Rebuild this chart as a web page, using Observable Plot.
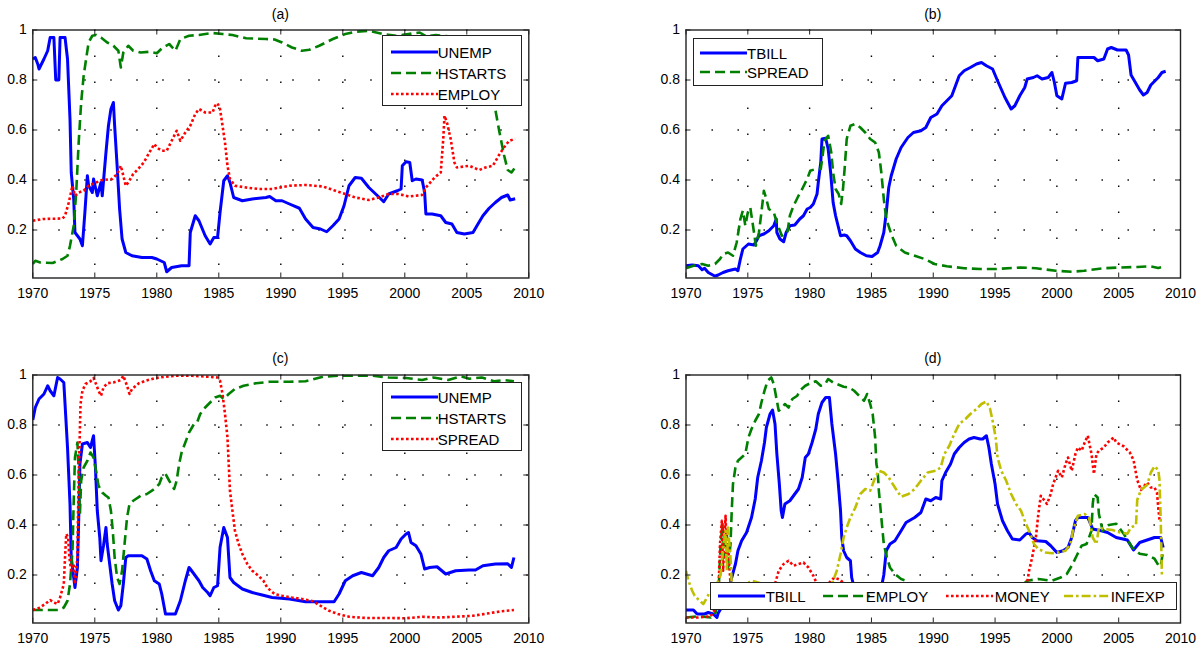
<!DOCTYPE html>
<html><head><meta charset="utf-8">
<script src="https://cdn.jsdelivr.net/npm/d3@7"></script>
<script src="https://cdn.jsdelivr.net/npm/@observablehq/plot@0.6"></script>
<style>
body{margin:0;background:#fff;}
#root{position:relative;width:1202px;height:651px;overflow:hidden;background:#fff;font-family:"Liberation Sans",Arial,sans-serif;color:#000;}
.panel{position:absolute;}
.title{position:absolute;font-size:14px;transform:translate(-50%,-50%);white-space:nowrap;}
.legend{position:absolute;background:#fff;border:1.5px solid #222;box-sizing:border-box;}
.legend .item{position:absolute;font-size:15px;white-space:nowrap;line-height:1;transform:translateY(-50%);}
.legend svg{position:absolute;transform:translateY(-50%);overflow:visible;}
</style></head>
<body><div id="root"></div>
<script>
// ---------- tick values ----------
const xTicks = [1970, 1975, 1980, 1985, 1990, 1995, 2000, 2005, 2010];
const yTicks = [0.2, 0.4, 0.6, 0.8, 1];

// ---------- panel (a) ----------
const a_unemp = [[1970.0,0.884],[1970.2,0.89],[1970.4,0.864],[1970.5,0.844],[1970.9,0.884],[1971.2,0.917],[1971.4,0.97],[1971.7,0.97],[1971.85,0.80],[1972.1,0.80],[1972.2,0.97],[1972.6,0.97],[1972.8,0.884],[1973.0,0.644],[1973.1,0.43],[1973.3,0.324],[1973.4,0.19],[1973.8,0.164],[1974.0,0.137],[1974.2,0.27],[1974.4,0.417],[1974.5,0.377],[1974.8,0.35],[1974.9,0.404],[1975.2,0.337],[1975.5,0.39],[1975.6,0.337],[1975.9,0.51],[1976.1,0.617],[1976.3,0.684],[1976.5,0.71],[1976.6,0.617],[1976.8,0.457],[1977.0,0.284],[1977.2,0.164],[1977.5,0.11],[1978.0,0.097],[1978.8,0.09],[1979.6,0.09],[1980.0,0.084],[1980.6,0.07],[1980.8,0.033],[1981.2,0.05],[1982.0,0.057],[1982.6,0.057],[1982.7,0.19],[1983.1,0.257],[1983.4,0.237],[1983.9,0.177],[1984.3,0.144],[1984.6,0.17],[1984.9,0.17],[1985.1,0.27],[1985.4,0.397],[1985.7,0.417],[1985.9,0.39],[1986.2,0.33],[1986.9,0.317],[1987.7,0.324],[1988.8,0.33],[1989.1,0.334],[1989.6,0.317],[1990.1,0.317],[1990.7,0.304],[1991.5,0.287],[1992.0,0.244],[1992.6,0.21],[1993.2,0.204],[1993.7,0.193],[1994.2,0.217],[1994.7,0.244],[1995.1,0.297],[1995.5,0.377],[1996.0,0.41],[1996.5,0.407],[1997.1,0.37],[1997.8,0.337],[1998.3,0.313],[1998.7,0.344],[1999.4,0.357],[1999.7,0.364],[1999.8,0.457],[2000.1,0.473],[2000.4,0.47],[2000.6,0.397],[2000.9,0.404],[2001.4,0.4],[2001.6,0.35],[2001.7,0.264],[2002.2,0.264],[2002.9,0.257],[2003.3,0.23],[2003.8,0.224],[2004.2,0.19],[2004.8,0.184],[2005.5,0.19],[2005.9,0.224],[2006.3,0.257],[2006.8,0.287],[2007.3,0.31],[2007.8,0.33],[2008.3,0.34],[2008.5,0.32],[2008.9,0.325]];
const a_hstarts = [[1970.0,0.064],[1970.2,0.077],[1970.6,0.07],[1971.6,0.068],[1972.4,0.084],[1972.8,0.097],[1973.0,0.137],[1973.3,0.217],[1973.5,0.35],[1973.7,0.55],[1973.9,0.71],[1974.1,0.817],[1974.3,0.884],[1974.5,0.95],[1974.8,0.977],[1975.1,0.98],[1975.5,0.97],[1976.0,0.95],[1976.5,0.937],[1976.9,0.917],[1977.1,0.85],[1977.3,0.91],[1977.7,0.937],[1978.1,0.917],[1978.7,0.91],[1979.4,0.913],[1980.0,0.907],[1980.4,0.926],[1981.0,0.944],[1981.5,0.917],[1981.9,0.964],[1982.6,0.977],[1983.4,0.98],[1984.5,0.988],[1985.3,0.984],[1986.1,0.98],[1987.2,0.967],[1988.8,0.964],[1989.5,0.962],[1990.1,0.95],[1990.9,0.93],[1991.7,0.917],[1992.3,0.921],[1993.1,0.937],[1994.2,0.964],[1995.2,0.984],[1996.0,0.993],[1997.1,0.997],[1998.2,0.984],[1999.3,0.977],[2000.3,0.984],[2001.2,0.99],[2001.7,0.975],[2002.5,0.98],[2003.5,0.975],[2004.5,0.97],[2005.5,0.96],[2006.3,0.93],[2006.8,0.82],[2007.2,0.71],[2007.6,0.6],[2008.0,0.5],[2008.3,0.44],[2008.6,0.43],[2008.9,0.45]];
const a_employ = [[1970.0,0.237],[1970.8,0.244],[1972.4,0.246],[1972.6,0.257],[1972.9,0.31],[1973.2,0.377],[1973.4,0.337],[1973.7,0.35],[1974.1,0.357],[1974.5,0.377],[1975.1,0.39],[1975.6,0.4],[1976.4,0.404],[1976.8,0.424],[1977.1,0.457],[1977.3,0.417],[1977.5,0.377],[1977.7,0.39],[1978.1,0.424],[1978.5,0.444],[1978.95,0.47],[1979.4,0.51],[1979.8,0.544],[1980.0,0.53],[1980.4,0.517],[1980.8,0.517],[1981.2,0.557],[1981.6,0.597],[1981.9,0.557],[1982.3,0.59],[1982.7,0.617],[1983.1,0.664],[1983.4,0.684],[1983.9,0.67],[1984.5,0.67],[1984.7,0.697],[1984.9,0.707],[1985.1,0.684],[1985.3,0.617],[1985.5,0.55],[1985.7,0.457],[1985.9,0.404],[1986.3,0.377],[1987.2,0.37],[1988.2,0.364],[1989.3,0.364],[1990.7,0.377],[1992.0,0.38],[1993.4,0.374],[1994.4,0.357],[1995.2,0.344],[1996.0,0.33],[1997.1,0.32],[1997.9,0.33],[1998.7,0.344],[1999.5,0.344],[2000.3,0.334],[2001.4,0.34],[2001.7,0.37],[2002.4,0.41],[2002.9,0.43],[2003.1,0.564],[2003.2,0.657],[2003.4,0.63],[2003.7,0.564],[2004.0,0.47],[2004.2,0.45],[2005.2,0.457],[2006.0,0.44],[2006.5,0.45],[2007.1,0.457],[2007.6,0.5],[2008.0,0.53],[2008.4,0.556],[2008.9,0.565]];

// ---------- panel (b) ----------
const b_tbill = [[1970.0,0.057],[1970.5,0.06],[1971.0,0.057],[1971.3,0.041],[1971.5,0.047],[1971.8,0.03],[1972.35,0.015],[1972.6,0.02],[1973.0,0.03],[1973.4,0.037],[1974.0,0.044],[1974.2,0.037],[1974.4,0.084],[1974.6,0.124],[1975.05,0.144],[1975.5,0.14],[1975.7,0.157],[1975.9,0.177],[1976.3,0.184],[1976.7,0.197],[1977.1,0.217],[1977.3,0.244],[1977.35,0.19],[1977.6,0.164],[1977.9,0.153],[1978.1,0.19],[1978.4,0.217],[1978.8,0.22],[1979.2,0.244],[1979.5,0.257],[1979.8,0.284],[1980.05,0.29],[1980.3,0.304],[1980.6,0.344],[1980.7,0.39],[1980.9,0.47],[1981.0,0.564],[1981.3,0.567],[1981.5,0.524],[1981.7,0.43],[1981.9,0.31],[1982.1,0.257],[1982.3,0.217],[1982.5,0.177],[1982.8,0.18],[1983.0,0.177],[1983.3,0.157],[1983.7,0.124],[1984.1,0.11],[1984.6,0.097],[1985.05,0.094],[1985.5,0.11],[1985.7,0.137],[1986.0,0.19],[1986.2,0.27],[1986.4,0.37],[1986.6,0.417],[1987.0,0.484],[1987.4,0.53],[1987.95,0.57],[1988.4,0.59],[1989.0,0.597],[1989.4,0.61],[1989.8,0.65],[1990.3,0.664],[1990.7,0.697],[1991.1,0.717],[1991.5,0.737],[1991.8,0.777],[1992.1,0.817],[1992.5,0.837],[1993.0,0.85],[1993.5,0.864],[1993.9,0.87],[1994.3,0.857],[1994.8,0.844],[1995.2,0.797],[1995.8,0.73],[1996.3,0.684],[1996.6,0.697],[1997.0,0.737],[1997.4,0.77],[1997.6,0.804],[1998.1,0.81],[1998.4,0.817],[1998.8,0.804],[1999.3,0.81],[1999.6,0.83],[1999.8,0.79],[2000.0,0.737],[2000.4,0.724],[2000.7,0.787],[2001.2,0.79],[2001.6,0.797],[2001.7,0.89],[2002.2,0.89],[2003.0,0.89],[2003.3,0.877],[2003.8,0.884],[2004.1,0.924],[2004.4,0.93],[2004.9,0.92],[2005.6,0.92],[2005.8,0.9],[2006.0,0.82],[2006.7,0.76],[2007.0,0.74],[2007.3,0.75],[2007.6,0.78],[2008.2,0.81],[2008.5,0.83],[2008.8,0.835]];
const b_spread = [[1970.0,0.047],[1970.6,0.057],[1971.3,0.064],[1971.8,0.057],[1972.35,0.064],[1972.75,0.084],[1973.0,0.104],[1973.4,0.11],[1973.8,0.097],[1974.1,0.15],[1974.4,0.244],[1974.6,0.277],[1974.8,0.217],[1975.0,0.27],[1975.2,0.29],[1975.5,0.19],[1975.65,0.137],[1975.9,0.19],[1976.1,0.27],[1976.3,0.357],[1976.5,0.324],[1976.7,0.284],[1977.1,0.27],[1977.35,0.23],[1977.75,0.177],[1978.2,0.19],[1978.4,0.257],[1978.7,0.297],[1979.1,0.337],[1979.4,0.364],[1979.8,0.404],[1980.05,0.437],[1980.5,0.444],[1980.9,0.444],[1981.05,0.497],[1981.2,0.557],[1981.5,0.577],[1981.75,0.51],[1981.9,0.43],[1982.1,0.364],[1982.35,0.344],[1982.55,0.304],[1982.7,0.364],[1982.85,0.457],[1983.0,0.564],[1983.3,0.617],[1983.7,0.624],[1984.1,0.61],[1984.5,0.59],[1984.9,0.564],[1985.3,0.55],[1985.6,0.51],[1985.8,0.43],[1986.0,0.324],[1986.2,0.244],[1986.65,0.177],[1987.0,0.137],[1987.7,0.11],[1988.5,0.097],[1989.3,0.084],[1990.1,0.064],[1991.1,0.055],[1992.5,0.047],[1993.8,0.044],[1995.1,0.044],[1997.0,0.05],[1998.3,0.047],[1999.9,0.037],[2001.2,0.033],[2002.2,0.037],[2003.8,0.047],[2005.0,0.05],[2006.5,0.052],[2007.5,0.055],[2008.2,0.048],[2008.8,0.055]];

// ---------- panel (c) ----------
const c_unemp = [[1970.0,0.82],[1970.2,0.87],[1970.5,0.904],[1970.9,0.924],[1971.2,0.957],[1971.4,0.937],[1971.7,0.917],[1972.0,0.99],[1972.2,0.984],[1972.5,0.97],[1972.6,0.884],[1972.8,0.71],[1973.0,0.484],[1973.1,0.27],[1973.3,0.19],[1973.4,0.15],[1973.6,0.23],[1973.7,0.417],[1973.8,0.644],[1974.0,0.724],[1974.4,0.73],[1974.65,0.71],[1974.9,0.757],[1975.05,0.63],[1975.2,0.457],[1975.4,0.35],[1975.5,0.257],[1975.7,0.317],[1975.9,0.39],[1976.0,0.324],[1976.2,0.244],[1976.4,0.164],[1976.6,0.097],[1976.9,0.06],[1977.1,0.077],[1977.3,0.164],[1977.5,0.27],[1977.7,0.277],[1978.8,0.277],[1979.2,0.264],[1979.5,0.217],[1979.8,0.177],[1980.2,0.164],[1980.4,0.124],[1980.7,0.044],[1981.5,0.044],[1981.9,0.097],[1982.3,0.177],[1982.6,0.23],[1982.7,0.224],[1983.0,0.204],[1983.4,0.177],[1983.7,0.15],[1984.1,0.13],[1984.3,0.117],[1984.6,0.15],[1984.9,0.157],[1985.1,0.31],[1985.4,0.39],[1985.7,0.35],[1985.9,0.19],[1986.2,0.17],[1986.9,0.144],[1987.7,0.13],[1988.5,0.12],[1989.3,0.11],[1990.7,0.104],[1992.0,0.093],[1994.3,0.093],[1994.7,0.124],[1995.2,0.177],[1995.8,0.197],[1996.5,0.21],[1997.4,0.197],[1997.9,0.23],[1998.3,0.27],[1998.7,0.297],[1999.3,0.31],[1999.7,0.344],[2000.1,0.364],[2000.3,0.37],[2000.5,0.33],[2000.9,0.317],[2001.3,0.284],[2001.6,0.224],[2002.0,0.23],[2002.6,0.233],[2003.3,0.204],[2004.1,0.217],[2005.2,0.22],[2005.7,0.22],[2006.3,0.237],[2007.3,0.244],[2008.3,0.245],[2008.6,0.23],[2008.8,0.27]];
const c_hstarts = [[1970.0,0.06],[1971.0,0.06],[1972.1,0.06],[1972.5,0.07],[1972.8,0.097],[1973.0,0.164],[1973.2,0.297],[1973.3,0.497],[1973.4,0.67],[1973.6,0.73],[1973.7,0.617],[1973.8,0.444],[1973.9,0.577],[1974.1,0.63],[1974.4,0.657],[1974.65,0.69],[1974.9,0.67],[1975.1,0.617],[1975.3,0.557],[1975.6,0.53],[1975.9,0.517],[1976.1,0.51],[1976.3,0.457],[1976.45,0.377],[1976.6,0.27],[1976.8,0.19],[1977.0,0.164],[1977.2,0.217],[1977.4,0.324],[1977.6,0.43],[1977.8,0.484],[1978.1,0.497],[1978.7,0.517],[1979.2,0.524],[1979.8,0.544],[1980.2,0.564],[1980.4,0.59],[1980.7,0.604],[1981.0,0.577],[1981.4,0.544],[1981.6,0.577],[1981.8,0.644],[1982.0,0.69],[1982.3,0.73],[1982.6,0.77],[1983.0,0.804],[1983.25,0.81],[1983.5,0.844],[1983.9,0.87],[1984.3,0.89],[1984.7,0.91],[1985.1,0.917],[1985.4,0.904],[1985.8,0.924],[1986.3,0.944],[1987.0,0.957],[1988.0,0.967],[1989.1,0.973],[1990.7,0.973],[1992.0,0.975],[1993.4,0.993],[1994.7,0.997],[1996.0,0.997],[1997.4,0.997],[1998.7,0.99],[2000.1,0.988],[2001.4,0.98],[2002.3,0.99],[2003.5,0.98],[2004.5,0.995],[2005.2,0.985],[2006.2,0.99],[2007.2,0.975],[2008.0,0.98],[2008.8,0.975]];
const c_spread = [[1970.0,0.06],[1970.5,0.068],[1971.0,0.084],[1971.4,0.1],[1971.7,0.09],[1972.0,0.084],[1972.2,0.11],[1972.5,0.164],[1972.6,0.27],[1972.7,0.364],[1972.85,0.35],[1972.95,0.27],[1973.1,0.217],[1973.3,0.244],[1973.4,0.164],[1973.6,0.27],[1973.65,0.457],[1973.75,0.684],[1973.85,0.884],[1974.0,0.937],[1974.25,0.964],[1974.65,0.975],[1974.9,0.988],[1975.1,0.964],[1975.3,0.937],[1975.5,0.917],[1975.7,0.95],[1976.0,0.967],[1976.5,0.97],[1977.1,0.98],[1977.3,0.997],[1977.6,0.957],[1977.8,0.924],[1978.0,0.944],[1978.55,0.967],[1979.1,0.977],[1979.9,0.988],[1980.7,0.993],[1981.5,0.997],[1982.85,0.997],[1984.2,0.993],[1984.9,0.99],[1985.1,0.977],[1985.3,0.924],[1985.5,0.844],[1985.7,0.75],[1985.8,0.644],[1985.9,0.537],[1986.1,0.457],[1986.3,0.377],[1986.6,0.324],[1986.9,0.284],[1987.3,0.244],[1987.7,0.217],[1988.2,0.197],[1988.6,0.177],[1988.9,0.15],[1989.5,0.124],[1990.1,0.117],[1990.9,0.11],[1991.7,0.104],[1992.6,0.095],[1993.2,0.077],[1993.9,0.057],[1994.6,0.044],[1995.5,0.033],[1996.9,0.028],[1998.7,0.028],[2000.1,0.027],[2001.4,0.033],[2002.8,0.03],[2004.1,0.033],[2005.5,0.037],[2006.8,0.047],[2007.8,0.055],[2008.8,0.06]];

// ---------- panel (d) ----------
const d_tbill = [[1970.0,0.06],[1970.6,0.06],[1970.9,0.044],[1971.5,0.044],[1971.8,0.05],[1972.2,0.044],[1972.5,0.03],[1972.6,0.047],[1973.0,0.08],[1973.4,0.13],[1973.7,0.19],[1974.0,0.244],[1974.2,0.297],[1974.5,0.337],[1974.9,0.37],[1975.3,0.43],[1975.6,0.504],[1975.8,0.59],[1976.1,0.657],[1976.35,0.73],[1976.5,0.79],[1976.8,0.844],[1977.0,0.86],[1977.2,0.804],[1977.35,0.684],[1977.55,0.564],[1977.7,0.457],[1977.8,0.43],[1978.0,0.484],[1978.4,0.497],[1978.8,0.524],[1979.1,0.544],[1979.4,0.59],[1979.65,0.67],[1979.9,0.684],[1980.2,0.73],[1980.5,0.784],[1980.7,0.844],[1981.0,0.89],[1981.3,0.91],[1981.6,0.91],[1981.8,0.804],[1982.1,0.684],[1982.3,0.577],[1982.5,0.457],[1982.6,0.35],[1982.75,0.297],[1983.0,0.27],[1983.3,0.257],[1983.4,0.19],[1983.6,0.15],[1984.0,0.12],[1984.5,0.1],[1985.0,0.09],[1985.5,0.11],[1985.8,0.15],[1986.0,0.2],[1986.2,0.297],[1986.5,0.324],[1986.9,0.337],[1987.4,0.377],[1987.8,0.41],[1988.5,0.43],[1989.0,0.45],[1989.4,0.504],[1989.8,0.497],[1990.2,0.51],[1990.6,0.504],[1990.7,0.577],[1991.0,0.61],[1991.4,0.644],[1991.7,0.684],[1992.1,0.71],[1992.5,0.73],[1992.9,0.744],[1993.3,0.75],[1993.8,0.744],[1994.0,0.744],[1994.3,0.757],[1994.5,0.71],[1994.7,0.644],[1995.0,0.564],[1995.2,0.484],[1995.6,0.417],[1996.0,0.377],[1996.4,0.344],[1997.0,0.34],[1997.5,0.364],[1997.75,0.37],[1998.0,0.35],[1998.4,0.337],[1999.1,0.334],[1999.5,0.317],[2000.0,0.29],[2000.5,0.297],[2000.9,0.31],[2001.2,0.35],[2001.5,0.417],[2001.7,0.43],[2002.5,0.43],[2002.9,0.384],[2003.6,0.377],[2004.1,0.37],[2004.8,0.35],[2005.7,0.34],[2006.2,0.3],[2006.7,0.33],[2007.3,0.34],[2007.9,0.35],[2008.4,0.35],[2008.6,0.31]];
const d_employ = [[1970.0,0.03],[1971.0,0.035],[1972.0,0.03],[1972.4,0.05],[1972.6,0.097],[1972.8,0.324],[1972.95,0.404],[1973.1,0.27],[1973.3,0.377],[1973.4,0.217],[1973.6,0.324],[1973.7,0.457],[1973.8,0.564],[1974.0,0.63],[1974.2,0.657],[1974.65,0.677],[1974.8,0.684],[1975.05,0.75],[1975.3,0.784],[1975.6,0.817],[1975.9,0.844],[1976.1,0.89],[1976.35,0.937],[1976.6,0.977],[1976.9,0.99],[1977.1,0.964],[1977.3,0.91],[1977.5,0.857],[1977.8,0.87],[1978.0,0.884],[1978.3,0.87],[1978.6,0.904],[1979.0,0.917],[1979.2,0.937],[1979.65,0.957],[1980.05,0.967],[1980.5,0.975],[1980.9,0.957],[1981.3,0.967],[1981.5,0.984],[1981.9,0.97],[1982.35,0.961],[1982.75,0.953],[1983.2,0.95],[1983.6,0.937],[1984.0,0.917],[1984.4,0.897],[1984.65,0.924],[1984.9,0.884],[1985.1,0.844],[1985.3,0.75],[1985.4,0.644],[1985.5,0.617],[1985.6,0.537],[1985.8,0.43],[1986.0,0.324],[1986.25,0.27],[1986.5,0.23],[1986.9,0.204],[1987.4,0.184],[1987.8,0.177],[1988.5,0.15],[1990.0,0.13],[1992.0,0.12],[1994.0,0.12],[1996.0,0.13],[1997.2,0.16],[1997.6,0.177],[1998.5,0.184],[1999.6,0.177],[2000.3,0.19],[2000.8,0.204],[2001.2,0.237],[2001.6,0.277],[2002.0,0.317],[2002.4,0.324],[2002.8,0.377],[2002.9,0.484],[2003.0,0.524],[2003.3,0.51],[2003.4,0.444],[2003.7,0.377],[2004.2,0.4],[2004.8,0.405],[2005.4,0.365],[2006.1,0.31],[2006.7,0.285],[2007.3,0.28],[2007.9,0.265],[2008.2,0.24],[2008.4,0.235],[2008.6,0.3]];
const d_money = [[1970.0,0.03],[1971.0,0.03],[1972.0,0.035],[1972.6,0.084],[1972.75,0.324],[1972.9,0.417],[1973.0,0.217],[1973.2,0.437],[1973.3,0.284],[1973.4,0.324],[1973.6,0.164],[1974.0,0.12],[1975.5,0.1],[1976.5,0.12],[1977.2,0.164],[1977.5,0.217],[1977.9,0.244],[1978.3,0.257],[1978.7,0.237],[1979.1,0.244],[1979.5,0.25],[1979.9,0.23],[1980.3,0.197],[1980.6,0.164],[1981.0,0.15],[1981.6,0.17],[1982.0,0.19],[1982.5,0.18],[1983.0,0.15],[1985.0,0.12],[1990.0,0.1],[1995.0,0.1],[1997.3,0.13],[1997.6,0.17],[1997.75,0.217],[1998.0,0.27],[1998.3,0.35],[1998.5,0.444],[1998.7,0.517],[1998.9,0.504],[1999.2,0.484],[1999.5,0.524],[1999.7,0.564],[2000.1,0.617],[2000.4,0.59],[2000.7,0.644],[2000.9,0.67],[2001.2,0.617],[2001.5,0.684],[2001.7,0.71],[2002.0,0.697],[2002.25,0.73],[2002.5,0.757],[2002.8,0.684],[2003.0,0.604],[2003.2,0.684],[2003.4,0.697],[2003.8,0.71],[2004.1,0.73],[2004.6,0.75],[2004.8,0.73],[2005.4,0.715],[2005.9,0.69],[2006.2,0.66],[2006.5,0.58],[2006.8,0.54],[2007.3,0.57],[2007.6,0.55],[2007.9,0.55],[2008.1,0.53],[2008.2,0.47],[2008.3,0.42],[2008.5,0.42]];
const d_infexp = [[1970.0,0.217],[1970.2,0.177],[1970.5,0.137],[1970.7,0.117],[1971.1,0.097],[1971.4,0.084],[1971.7,0.11],[1971.9,0.13],[1972.3,0.14],[1972.8,0.2],[1973.0,0.3],[1973.2,0.377],[1973.3,0.217],[1973.4,0.39],[1973.6,0.27],[1973.7,0.164],[1974.5,0.15],[1975.3,0.177],[1976.5,0.16],[1978.0,0.15],[1980.0,0.15],[1981.0,0.14],[1981.8,0.164],[1982.2,0.217],[1982.5,0.284],[1982.75,0.35],[1983.0,0.39],[1983.3,0.43],[1983.7,0.47],[1984.1,0.524],[1984.5,0.544],[1984.9,0.537],[1985.3,0.59],[1985.6,0.617],[1986.0,0.61],[1986.4,0.59],[1986.9,0.55],[1987.4,0.513],[1988.0,0.524],[1988.5,0.544],[1989.0,0.577],[1989.55,0.61],[1990.2,0.617],[1990.6,0.63],[1990.9,0.684],[1991.3,0.717],[1991.7,0.764],[1992.1,0.804],[1992.6,0.824],[1993.0,0.844],[1993.5,0.864],[1993.9,0.884],[1994.3,0.894],[1994.6,0.864],[1994.8,0.817],[1995.05,0.75],[1995.2,0.67],[1995.5,0.617],[1995.9,0.577],[1996.3,0.524],[1996.7,0.484],[1997.1,0.457],[1997.5,0.404],[1997.75,0.377],[1998.15,0.324],[1998.5,0.304],[1999.1,0.29],[1999.6,0.287],[2000.1,0.29],[2000.7,0.297],[2001.1,0.324],[2001.3,0.377],[2001.7,0.437],[2002.25,0.444],[2002.6,0.43],[2002.9,0.35],[2003.2,0.324],[2003.4,0.39],[2003.8,0.384],[2004.5,0.38],[2005.1,0.37],[2005.7,0.365],[2006.0,0.39],[2006.4,0.4],[2006.5,0.5],[2006.8,0.54],[2007.3,0.56],[2007.6,0.61],[2007.9,0.635],[2008.2,0.62],[2008.3,0.58],[2008.4,0.42],[2008.5,0.19]];

// ---------- styles ----------
const S = {
  blue:   {color: "#0000ff", w: 3,   dash: null},
  green:  {color: "#008000", w: 2.6, dash: "10,5"},
  red:    {color: "#ff0000", w: 2.6, dash: "2.6,2.4"},
  yellow: {color: "#bfbf00", w: 2.6, dash: "9,3,2.6,3"}
};

const root = document.getElementById("root");

function panel(cfg) {
  const {left, top, width, height, mL, mR, mT, mB, series} = cfg;
  const fh = height - mT - mB, fw = width - mL - mR;
  const chart = Plot.plot({
    width, height,
    marginLeft: mL, marginRight: mR, marginTop: mT, marginBottom: mB,
    style: {fontFamily: "'Liberation Sans', Arial, sans-serif", fontSize: "14px", background: "transparent", overflow: "visible", color: "#000"},
    x: {domain: [1970, 2010]},
    y: {domain: [0.008, 1]},
    marks: [
      Plot.ruleX(xTicks.slice(1, -1), {stroke: "#000", strokeWidth: 1.4, strokeDasharray: "1.4,24.6"}),
      Plot.ruleY(yTicks.slice(0, -1), {stroke: "#000", strokeWidth: 1.4, strokeDasharray: "1.4,24.6"}),
      ...series.map(s => Plot.line(s.data, {x: d => d[0], y: d => d[1], stroke: s.style.color, strokeWidth: s.style.w,
        strokeDasharray: s.style.dash || undefined, strokeLinecap: "butt", strokeLinejoin: "round", clip: true})),
      Plot.tickX(xTicks, {x: d => d, insetTop: fh - 5, stroke: "#222"}),
      Plot.tickX(xTicks, {x: d => d, insetBottom: fh - 5, stroke: "#222"}),
      Plot.tickY(yTicks, {y: d => d, insetRight: fw - 5, stroke: "#222"}),
      Plot.tickY(yTicks, {y: d => d, insetLeft: fw - 5, stroke: "#222"}),
      Plot.frame({stroke: "#222", strokeWidth: 1.4}),
      Plot.axisX(xTicks, {tickSize: 0, tickPadding: 10, tickFormat: d => String(d), label: null, fontSize: 14}),
      Plot.axisY(yTicks, {tickSize: 0, tickPadding: 6, tickFormat: d => d === 1 ? "1" : d.toFixed(1), label: null, fontSize: 14})
    ]
  });
  chart.classList.add("panel");
  chart.style.left = left + "px";
  chart.style.top = top + "px";
  root.appendChild(chart);

  const t = document.createElement("div");
  t.className = "title";
  t.textContent = cfg.title;
  t.style.left = (left + mL + fw / 2) + "px";
  t.style.top = cfg.titleY + "px";
  root.appendChild(t);

  const L = cfg.legend;
  const box = document.createElement("div");
  box.className = "legend";
  Object.assign(box.style, {left: L.left + "px", top: L.top + "px", width: L.width + "px", height: L.height + "px"});
  L.items.forEach((it, i) => {
    const st = series[i].style;
    const svg = document.createElementNS("http://www.w3.org/2000/svg", "svg");
    svg.setAttribute("width", 47); svg.setAttribute("height", 8);
    svg.style.left = it.sx + "px"; svg.style.top = it.y + "px";
    const ln = document.createElementNS("http://www.w3.org/2000/svg", "line");
    ln.setAttribute("x1", 0); ln.setAttribute("x2", 47); ln.setAttribute("y1", 4); ln.setAttribute("y2", 4);
    ln.setAttribute("stroke", st.color); ln.setAttribute("stroke-width", st.w);
    if (st.dash) ln.setAttribute("stroke-dasharray", st.dash);
    svg.appendChild(ln);
    box.appendChild(svg);
    const tx = document.createElement("div");
    tx.className = "item";
    tx.textContent = series[i].label;
    tx.style.left = it.tx + "px"; tx.style.top = it.y + "px";
    box.appendChild(tx);
  });
  root.appendChild(box);
}

const leftCol = {left: 0, width: 600, mL: 32.3, mR: 600 - 528.3};
const rightCol = {left: 600, width: 602, mL: 85.5, mR: 602 - 580};
const topRow = {top: 0, height: 330, mT: 29.5, mB: 330 - 277.5, titleY: 13.5};
const botRow = {top: 330, height: 321, mT: 44.5, mB: 651 - 622.5, titleY: 357.5};

panel({...leftCol, ...topRow, title: "(a)",
  series: [{label: "UNEMP", data: a_unemp, style: S.blue}, {label: "HSTARTS", data: a_hstarts, style: S.green}, {label: "EMPLOY", data: a_employ, style: S.red}],
  legend: {left: 381.7, top: 35, width: 140, height: 71, items: [{sx: 8, tx: 55, y: 16}, {sx: 8, tx: 55, y: 36.5}, {sx: 8, tx: 55, y: 57.5}]}});

panel({...rightCol, ...topRow, title: "(b)",
  series: [{label: "TBILL", data: b_tbill, style: S.blue}, {label: "SPREAD", data: b_spread, style: S.green}],
  legend: {left: 693, top: 38.3, width: 130, height: 48, items: [{sx: 6, tx: 53, y: 13.5}, {sx: 6, tx: 53, y: 33}]}});

panel({...leftCol, ...botRow, title: "(c)",
  series: [{label: "UNEMP", data: c_unemp, style: S.blue}, {label: "HSTARTS", data: c_hstarts, style: S.green}, {label: "SPREAD", data: c_spread, style: S.red}],
  legend: {left: 381.7, top: 381.7, width: 140, height: 69, items: [{sx: 8, tx: 55, y: 14.5}, {sx: 8, tx: 55, y: 35}, {sx: 8, tx: 55, y: 56}]}});

panel({...rightCol, ...botRow, title: "(d)",
  series: [{label: "TBILL", data: d_tbill, style: S.blue}, {label: "EMPLOY", data: d_employ, style: S.green}, {label: "MONEY", data: d_money, style: S.red}, {label: "INFEXP", data: d_infexp, style: S.yellow}],
  legend: {left: 709.7, top: 582, width: 467, height: 28, items: [{sx: 7.5, tx: 55, y: 13}, {sx: 112, tx: 155, y: 13}, {sx: 235, tx: 284, y: 13}, {sx: 353, tx: 400, y: 13}]}});
</script>
</body></html>
